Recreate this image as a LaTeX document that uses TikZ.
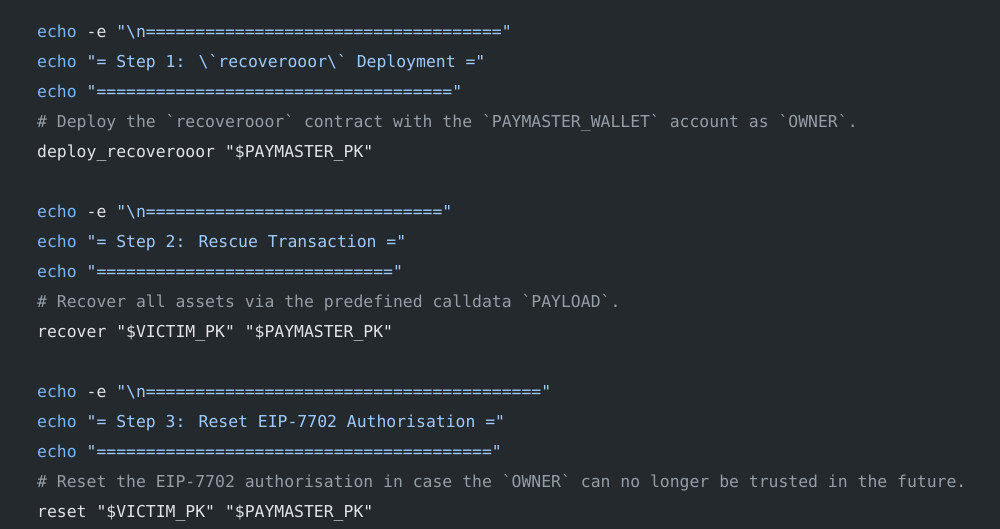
\documentclass[tikz,border=0pt]{standalone}
\usepackage{fontspec}
\newfontfamily\code[Ligatures=NoCommon]{DejaVu Sans Mono}
\definecolor{bg}{HTML}{24292E}
\definecolor{kw}{HTML}{79B8FF}
\definecolor{str}{HTML}{9ECBFF}
\definecolor{cm}{HTML}{959DA5}
\definecolor{pl}{HTML}{E1E4E8}
\newcommand{\bq}{\textasciigrave}
\newcommand{\eqs}[1]{\foreach \i in {1,...,#1}{=}}
\begin{document}
\begin{tikzpicture}[x=1pt,y=1pt,
  ln/.style={anchor=base west,inner sep=0pt,text=pl,font=\code\fontsize{16.42}{18}\selectfont}]
\fill[bg] (0,0) rectangle (1000,-529);
\useasboundingbox (0,0) rectangle (1000,-529);
\def\K#1{\textcolor{kw}{#1}}
\def\S#1{\textcolor{str}{#1}}
\node[ln] (l1) at (37,-37.5) {\K{echo} -e \S{"\textbackslash n\eqs{36}"}};
\node[ln] (l2) at (37,-67.5) {\K{echo} \S{"= Step 1: \textbackslash\bq recoverooor\textbackslash\bq\ Deployment ="}};
\node[ln] (l3) at (37,-97.5) {\K{echo} \S{"\eqs{36}"}};
\node[ln,text=cm] (l4) at (37,-127.5) {\# Deploy the \bq recoverooor\bq\ contract with the \bq PAYMASTER\_WALLET\bq\ account as \bq OWNER\bq.};
\node[ln] (l5) at (37,-157.5) {deploy\_recoverooor "\$PAYMASTER\_PK"};
\node[ln] (l6) at (37,-217.5) {\K{echo} -e \S{"\textbackslash n\eqs{30}"}};
\node[ln] (l7) at (37,-247.5) {\K{echo} \S{"= Step 2: Rescue Transaction ="}};
\node[ln] (l8) at (37,-277.5) {\K{echo} \S{"\eqs{30}"}};
\node[ln,text=cm] (l9) at (37,-307.5) {\# Recover all assets via the predefined calldata \bq PAYLOAD\bq.};
\node[ln] (l10) at (37,-337.5) {recover "\$VICTIM\_PK" "\$PAYMASTER\_PK"};
\node[ln] (l11) at (37,-397.5) {\K{echo} -e \S{"\textbackslash n\eqs{40}"}};
\node[ln] (l12) at (37,-427.5) {\K{echo} \S{"= Step 3: Reset EIP-7702 Authorisation ="}};
\node[ln] (l13) at (37,-457.5) {\K{echo} \S{"\eqs{40}"}};
\node[ln,text=cm] (l14) at (37,-487.5) {\# Reset the EIP-7702 authorisation in case the \bq OWNER\bq\ can no longer be trusted in the future.};
\node[ln] (l15) at (37,-517.5) {reset "\$VICTIM\_PK" "\$PAYMASTER\_PK"};
\end{tikzpicture}
\end{document}
